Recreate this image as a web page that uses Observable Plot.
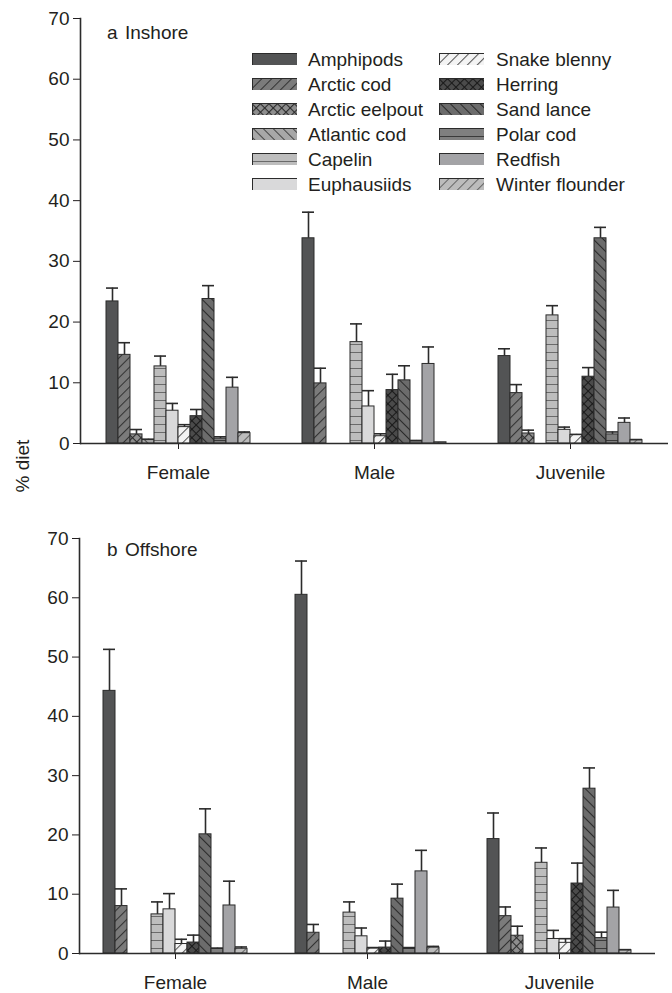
<!DOCTYPE html>
<html><head><meta charset="utf-8">
<script src="https://cdn.jsdelivr.net/npm/d3@7"></script>
<script src="https://cdn.jsdelivr.net/npm/@observablehq/plot@0.6"></script>
<style>
body{margin:0;background:#fff;font-family:"Liberation Sans",Arial,Helvetica,sans-serif;color:#231f20}
#wrap{position:relative;width:672px;height:993px;overflow:hidden}
.panel{position:absolute;left:0}
.t{position:absolute;font-size:19px;line-height:19px;white-space:nowrap}
.sw{position:absolute;width:45px;height:12px}
</style></head><body>
<svg id="defs" width="0" height="0" style="position:absolute"></svg>
<div id="wrap"></div>
<script>
// ---------- data ----------
const species = ["Amphipods","Arctic cod","Arctic eelpout","Atlantic cod","Capelin","Euphausiids",
                 "Snake blenny","Herring","Sand lance","Polar cod","Redfish","Winter flounder"];
const groups = ["Female","Male","Juvenile"];
const yTicks = [0,10,20,30,40,50,60,70];

// Inshore (% diet, mean and SE)
const inshoreFemale   = [23.4,14.6,1.5,0.6,12.7,5.4,2.7,4.5,23.8,0.8,9.2,1.7];
const inshoreFemaleSE = [2.2,2.0,0.8,0.1,1.7,1.2,0.4,1.1,2.2,0.3,1.7,0.2];
const inshoreMale     = [33.8,9.9,0,0,16.7,6.1,1.2,8.8,10.4,0.4,13.1,0.2];
const inshoreMaleSE   = [4.3,2.5,0,0,3.0,2.6,0.4,2.6,2.4,0.1,2.8,0];
const inshoreJuv      = [14.4,8.3,1.65,0,21.1,2.25,1.4,11.0,33.8,1.5,3.4,0.55];
const inshoreJuvSE    = [1.2,1.4,0.55,0,1.6,0.45,0.1,1.5,1.8,0.4,0.8,0.1];

// Offshore
const offshoreFemale   = [44.3,8.0,0,0,6.6,7.45,1.6,1.85,20.1,0.8,8.1,0.8];
const offshoreFemaleSE = [7.0,2.9,0,0,2.1,2.65,0.8,1.25,4.3,0.1,4.1,0.3];
const offshoreMale     = [60.5,3.5,0,0,6.9,2.9,0.85,1.0,9.25,0.85,13.85,1.0];
const offshoreMaleSE   = [5.7,1.4,0,0,1.8,1.4,0.15,1.1,2.45,0.15,3.55,0.2];
const offshoreJuv      = [19.3,6.3,3.0,0,15.3,2.45,1.8,11.8,27.8,2.6,7.75,0.55];
const offshoreJuvSE    = [4.4,1.55,1.6,0,2.5,1.45,0.7,3.45,3.5,1.0,2.9,0.1];

// ---------- patterns ----------
const pats = [
  {bg:"#535455", type:"solid"},
  {bg:"#7b7b7b", type:"diag", rot:45, line:"#333", sp:7},
  {bg:"#8e8e8e", type:"cross", line:"#2a2a2a", sp:6},
  {bg:"#a8a8a8", type:"diag", rot:-45, line:"#444", sp:7},
  {bg:"#bdbdbd", type:"horiz", line:"#6a6a6a", sp:8},
  {bg:"#d9d9da", type:"solid"},
  {bg:"#f4f4f4", type:"diag", rot:45, line:"#555", sp:7},
  {bg:"#4b4b4b", type:"cross", line:"#1a1a1a", sp:6},
  {bg:"#6c6c6c", type:"diag", rot:-45, line:"#2a2a2a", sp:7},
  {bg:"#7f7f7f", type:"horiz", line:"#3a3a3a", sp:8},
  {bg:"#a3a3a6", type:"solid"},
  {bg:"#bcbcbc", type:"diag", rot:45, line:"#666", sp:7}
];
let defs = "<defs>";
pats.forEach((p,i)=>{
  if (p.type==="solid") {
    defs += `<pattern id="pat${i}" patternUnits="userSpaceOnUse" width="4" height="4"><rect width="4" height="4" fill="${p.bg}"/></pattern>`;
  } else if (p.type==="diag") {
    defs += `<pattern id="pat${i}" patternUnits="userSpaceOnUse" width="${p.sp}" height="${p.sp}" patternTransform="rotate(${p.rot})"><rect width="${p.sp}" height="${p.sp}" fill="${p.bg}"/><line x1="0.5" y1="0" x2="0.5" y2="${p.sp}" stroke="${p.line}" stroke-width="1.1"/></pattern>`;
  } else if (p.type==="cross") {
    defs += `<pattern id="pat${i}" patternUnits="userSpaceOnUse" width="${p.sp}" height="${p.sp}" patternTransform="rotate(45)"><rect width="${p.sp}" height="${p.sp}" fill="${p.bg}"/><line x1="0.5" y1="0" x2="0.5" y2="${p.sp}" stroke="${p.line}" stroke-width="1.1"/><line x1="0" y1="0.5" x2="${p.sp}" y2="0.5" stroke="${p.line}" stroke-width="1.1"/></pattern>`;
  } else {
    defs += `<pattern id="pat${i}" patternUnits="userSpaceOnUse" width="${p.sp}" height="${p.sp}"><rect width="${p.sp}" height="${p.sp}" fill="${p.bg}"/><line x1="0" y1="0.5" x2="${p.sp}" y2="0.5" stroke="${p.line}" stroke-width="1"/></pattern>`;
  }
});
defs += "</defs>";
document.getElementById("defs").innerHTML = defs;
const patUrls = species.map((s,i)=>`url(#pat${i})`);

function rowsOf(means, ses) {
  const out = [];
  groups.forEach((g,gi)=>{
    species.forEach((s,i)=>{
      out.push({group:g, species:s, value:means[gi][i], top:means[gi][i]+ses[gi][i]});
    });
  });
  return out;
}
const inshore = rowsOf([inshoreFemale,inshoreMale,inshoreJuv],[inshoreFemaleSE,inshoreMaleSE,inshoreJuvSE]);
const offshore = rowsOf([offshoreFemale,offshoreMale,offshoreJuv],[offshoreFemaleSE,offshoreMaleSE,offshoreJuvSE]);

const ink = "#2b2b2b";
function panel(rows, o) {
  const eb = rows.filter(d=>d.top>d.value && d.value>0);
  return Plot.plot({
    width: 672, height: o.height,
    marginLeft: o.left, marginRight: o.right, marginTop: o.top, marginBottom: o.bottom,
    style: {fontFamily:'"Liberation Sans",Arial,Helvetica,sans-serif', fontSize:"19px", color:"#231f20", background:"transparent", overflow:"visible"},
    fx: {domain: groups, padding: 0, label: null, axis: "bottom", tickSize: 6, tickPadding: 16},
    x: {domain: species, paddingInner: 0, paddingOuter: 2, axis: null},
    y: {domain: [0,70], ticks: yTicks, tickSize: 7, tickPadding: 4, label: null},
    color: {domain: species, range: patUrls},
    marks: [
      Plot.barY(rows, {fx:"group", x:"species", y:"value", fill:"species", stroke:ink, strokeWidth:1}),
      Plot.ruleX(eb, {fx:"group", x:"species", y1:"value", y2:"top", stroke:ink, strokeWidth:1.6}),
      Plot.tickY(eb, {fx:"group", x:"species", y:"top", stroke:ink, strokeWidth:1.6}),
      Plot.ruleY([0], {stroke:ink, strokeWidth:1.6}),
      Plot.frame({anchor:"left", facetAnchor:"left", stroke:ink, strokeWidth:1.6})
    ]
  });
}

const wrap = document.getElementById("wrap");
const pa = panel(inshore, {height:500, top:18, bottom:57, left:79, right:4});
pa.classList.add("panel"); pa.style.top = "0px";
wrap.appendChild(pa);
const pb = panel(offshore, {height:493, top:38, bottom:40, left:78, right:17});
pb.classList.add("panel"); pb.style.top = "500px";
wrap.appendChild(pb);

function addText(txt, x, yc, extra) {
  const d = document.createElement("div");
  d.className = "t"; d.textContent = txt;
  d.style.left = x + "px"; d.style.top = (yc - 9.5) + "px";
  if (extra) Object.assign(d.style, extra);
  wrap.appendChild(d);
}
addText("a", 107, 32); addText("Inshore", 125, 32);
addText("b", 107, 549); addText("Offshore", 125, 549);

// y label
const yl = document.createElement("div");
yl.className = "t"; yl.textContent = "% diet";
yl.style.left = "22px"; yl.style.top = "466px";
yl.style.transform = "translate(-50%,-50%) rotate(-90deg)";
wrap.appendChild(yl);

// legend
species.forEach((s,i)=>{
  const col = i < 6 ? 0 : 1;
  const row = i % 6;
  const yc = 59.5 + row*25;
  const sx = col ? 439 : 252;
  const tx = col ? 496 : 308;
  const sw = document.createElementNS("http://www.w3.org/2000/svg","svg");
  sw.setAttribute("class","sw"); sw.setAttribute("width","46"); sw.setAttribute("height","13");
  sw.style.left = sx + "px"; sw.style.top = (yc - 6.5) + "px";
  sw.innerHTML = `<rect x="0.5" y="0.5" width="45" height="12" fill="${patUrls[i]}" stroke="${ink}" stroke-width="1"/>`;
  wrap.appendChild(sw);
  addText(s, tx, yc);
});
</script>
</body></html>
